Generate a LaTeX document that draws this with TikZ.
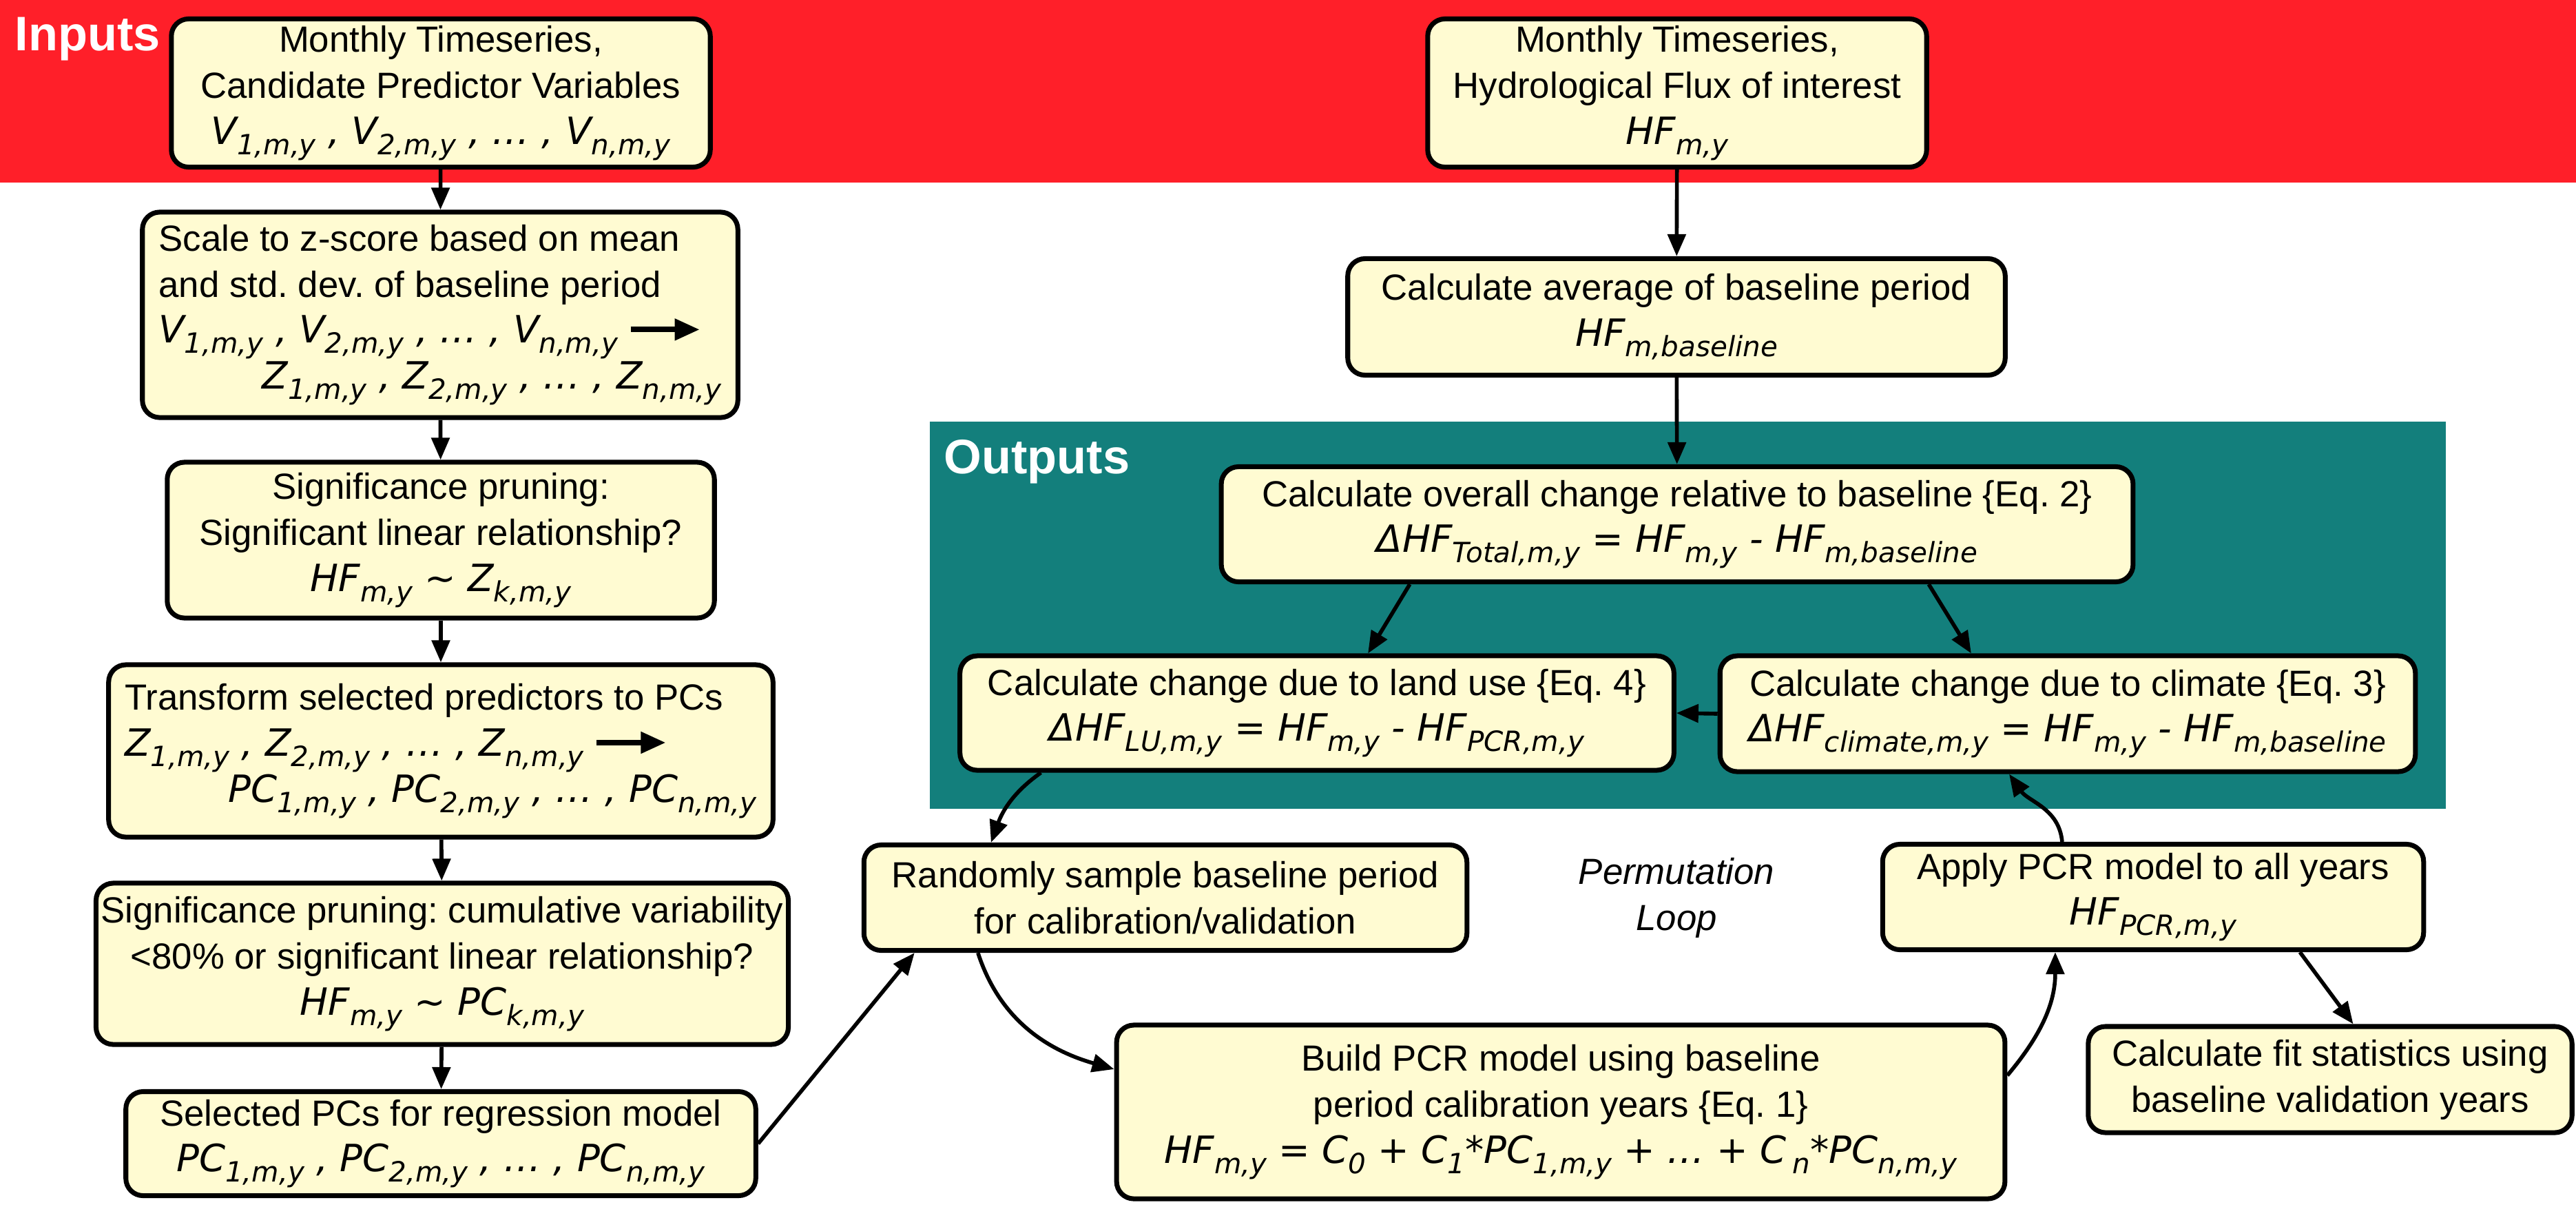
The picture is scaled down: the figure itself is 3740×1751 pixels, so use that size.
\documentclass[tikz,border=0pt]{standalone}
\usepackage{fontspec}
\setmainfont{Liberation Sans}
\newfontfamily\eqfont{DejaVu Sans}
\usetikzlibrary{positioning, arrows.meta}
\frenchspacing
\definecolor{inred}{RGB}{255,31,41}
\definecolor{outteal}{RGB}{19,127,124}
\definecolor{boxfill}{RGB}{255,251,210}
\newcommand{\fml}[1]{{\eqfont\itshape\fontsize{15.5}{19}\selectfont #1}}
\newcommand{\sbs}[1]{\raisebox{-0.5ex}{\fontsize{11.5}{11.5}\selectfont #1}}
\newcommand{\goesto}{\ \tikz[baseline=-0.7ex]\draw[line width=2.2pt, -{Triangle[length=0.36cm, width=0.3cm]}] (0,0) -- (1cm,0);}
\begin{document}
\begin{tikzpicture}
	[x=0.01cm, y=-0.01cm,
	 bx/.style={draw=black, line width=2pt, rectangle, align=center,
	            rounded corners=0.25cm, fill=boxfill, inner sep=2pt,
	            font=\fontsize{15}{19}\selectfont},
	 ln/.style={draw=black, line width=1.6pt, -{Triangle[length=0.32cm, width=0.26cm]}},
	 lbl/.style={text=white, inner sep=0pt, font=\bfseries\fontsize{20}{24}\selectfont}]
	\useasboundingbox (0,0) rectangle (3740,1751);
	\fill[inred] (0,0) rectangle (3740,265);
	\fill[outteal] (1350,612) rectangle (3551,1174);
	\node[lbl, anchor=base west] (inlbl) at (21,73) {Inputs};
	\node[lbl, anchor=base west] (outlbl) at (1370,687) {Outputs};

	% left column
	\node[bx, minimum width=7.82cm, minimum height=2.15cm] (inV) at (640,135)
		{Monthly Timeseries,\\Candidate Predictor Variables\\
		 \fml{V\sbs{1,m,y} , V\sbs{2,m,y} , … , V\sbs{n,m,y}}};
	\node[bx, align=left, minimum width=8.64cm, minimum height=2.98cm] (scale) at (639,457)
		{Scale to z-score based on mean\\and std. dev. of baseline period\\
		 \fml{V\sbs{1,m,y} , V\sbs{2,m,y} , … , V\sbs{n,m,y}}\goesto\\
		 \hspace*{1.5cm}\fml{Z\sbs{1,m,y} , Z\sbs{2,m,y} , … , Z\sbs{n,m,y}}};
	\node[bx, minimum width=7.94cm, minimum height=2.26cm] (prune1) at (640,784)
		{Significance pruning:\\Significant linear relationship?\\
		 \fml{HF\sbs{m,y} \textasciitilde\ Z\sbs{k,m,y}}};
	\node[bx, align=left, minimum width=9.64cm, minimum height=2.5cm] (topc) at (640,1090)
		{Transform selected predictors to PCs\\
		 \fml{Z\sbs{1,m,y} , Z\sbs{2,m,y} , … , Z\sbs{n,m,y}}\goesto\\
		 \hspace*{1.5cm}\fml{PC\sbs{1,m,y} , PC\sbs{2,m,y} , … , PC\sbs{n,m,y}}};
	\node[bx, minimum width=9.85cm, minimum height=2.34cm] (prune2) at (642,1399)
		{Significance pruning: cumulative variability\\<80\% or significant linear relationship?\\
		 \fml{HF\sbs{m,y} \textasciitilde\ PC\sbs{k,m,y}}};
	\node[bx, minimum width=9.14cm, minimum height=1.51cm] (selpc) at (640,1660)
		{Selected PCs for regression model\\
		 \fml{PC\sbs{1,m,y} , PC\sbs{2,m,y} , … , PC\sbs{n,m,y}}};

	% right part
	\node[bx, minimum width=7.24cm, minimum height=2.15cm] (inHF) at (2435,135)
		{Monthly Timeseries,\\Hydrological Flux of interest\\\fml{HF\sbs{m,y}}};
	\node[bx, minimum width=9.54cm, minimum height=1.69cm] (avg) at (2434,460)
		{Calculate average of baseline period\\\fml{HF\sbs{m,baseline}}};
	\node[bx, minimum width=13.23cm, minimum height=1.67cm] (total) at (2435,761)
		{Calculate overall change relative to baseline \{Eq. 2\}\\
		 \fml{ΔHF\sbs{Total,m,y} = HF\sbs{m,y} - HF\sbs{m,baseline}}};
	\node[bx, minimum width=10.36cm, minimum height=1.66cm] (landuse) at (1912,1035)
		{Calculate change due to land use \{Eq. 4\}\\
		 \fml{ΔHF\sbs{LU,m,y} = HF\sbs{m,y} - HF\sbs{PCR,m,y}}};
	\node[bx, minimum width=10.09cm, minimum height=1.68cm] (climate) at (3002,1036)
		{Calculate change due to climate \{Eq. 3\}\\
		 \fml{ΔHF\sbs{climate,m,y} = HF\sbs{m,y} - HF\sbs{m,baseline}}};
	\node[bx, minimum width=8.75cm, minimum height=1.53cm] (sample) at (1692,1303)
		{Randomly sample baseline period\\for calibration/validation};
	\node[font=\itshape\fontsize{15}{19}\selectfont, align=center] (loop) at (2434,1303)
		{Permutation\\Loop};
	\node[bx, minimum width=12.89cm, minimum height=2.52cm] (build) at (2266,1614)
		{Build PCR model using baseline\\period calibration years \{Eq. 1\}\\
		 \fml{HF\sbs{m,y} = C\sbs{0} + C\sbs{1}*PC\sbs{1,m,y} + … + C\,\sbs{n}*PC\sbs{n,m,y}}};
	\node[bx, minimum width=7.85cm, minimum height=1.53cm] (apply) at (3126,1302)
		{Apply PCR model to all years\\\fml{HF\sbs{PCR,m,y}}};
	\node[bx, minimum width=7.02cm, minimum height=1.54cm] (fitstat) at (3383,1567)
		{Calculate fit statistics using\\baseline validation years};

	\draw[ln] (inV) -- (scale);
	\draw[ln] (scale) -- (prune1);
	\draw[ln] (prune1) -- (topc);
	\draw[ln] (topc) -- (prune2);
	\draw[ln] (prune2) -- (selpc);
	\draw[ln] (inHF) -- (avg);
	\draw[ln] (avg) -- (total);
	\draw[ln] ([xshift=-3.88cm]total.south) -- ([xshift=0.74cm]landuse.north);
	\draw[ln] ([xshift=3.65cm]total.south) -- ([xshift=-1.40cm]climate.north);
	\draw[ln] (climate.west) -- (landuse.east);
	\draw[ln] ([xshift=1.21cm]landuse.south west) to[out=215, in=70] ([xshift=1.88cm]sample.north west);
	\draw[ln] ([xshift=1.69cm]sample.south west) to[out=-72, in=164] ([yshift=0.62cm]build.west);
	\draw[ln] (selpc.east) -- ([xshift=0.77cm]sample.south west);
	\draw[ln] ([yshift=0.53cm]build.east) to[out=50, in=-90] ([xshift=2.54cm]apply.south west);
	\draw[ln] ([xshift=2.64cm]apply.north west) to[out=95, in=-55] ([xshift=4.23cm]climate.south west);
	\draw[ln] ([xshift=6.09cm]apply.south west) -- ([xshift=3.88cm]fitstat.north west);
\end{tikzpicture}
\end{document}
